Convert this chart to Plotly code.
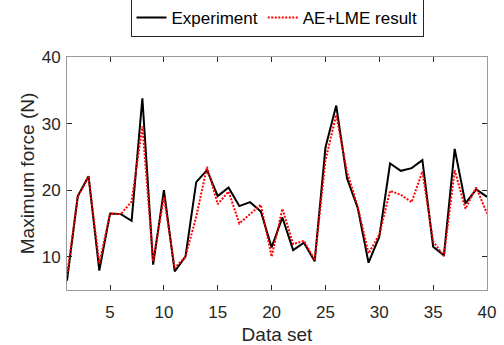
import plotly.graph_objects as go

data_set = list(range(1, 41))
experiment = [6.4, 19.1, 22.1, 7.9, 16.5, 16.4, 15.4, 33.8, 8.8, 20.0,
              7.8, 10.0, 21.2, 23.0, 19.1, 20.4, 17.6, 18.2, 16.8, 11.4,
              15.9, 11.0, 12.1, 9.3, 26.4, 32.7, 21.8, 17.3, 9.1, 13.0,
              24.0, 22.9, 23.3, 24.5, 11.5, 10.2, 26.2, 18.0, 20.1, 19.0]
ae_lme = [7.2, 19.0, 22.0, 9.0, 16.5, 16.4, 18.3, 29.6, 9.3, 19.0,
          8.3, 10.0, 16.0, 23.5, 17.9, 19.8, 15.0, 16.4, 17.8, 10.0,
          17.2, 11.9, 12.4, 9.5, 24.5, 31.3, 22.8, 17.5, 10.5, 13.3,
          19.9, 19.3, 18.2, 22.8, 12.3, 10.1, 23.0, 17.2, 20.4, 16.5]
x_ticks = [5, 10, 15, 20, 25, 30, 35, 40]
y_ticks = [10, 20, 30, 40]

FONT = "Liberation Sans, Arial, sans-serif"

fig = go.Figure()
fig.add_trace(go.Scatter(x=data_set, y=experiment, mode="lines", name="Experiment",
                         line=dict(color="black", width=2)))
fig.add_trace(go.Scatter(x=data_set, y=ae_lme, mode="lines", name="AE+LME result",
                         line=dict(color="#ff0000", width=2, dash="2px,1.5px")))

axis_common = dict(
    showline=True, linecolor="#9a9a9a", linewidth=1, mirror="ticks",
    ticks="inside", ticklen=5, tickcolor="#262626", tickwidth=1,
    showgrid=False, zeroline=False,
    tickfont=dict(family=FONT, size=17, color="#262626"),
)

fig.update_layout(
    width=504, height=345,
    margin=dict(l=67, r=17, t=57, b=55, autoexpand=False),
    paper_bgcolor="white", plot_bgcolor="white",
    font=dict(family=FONT, color="#262626"),
    showlegend=True,
    legend=dict(orientation="h", x=0.5, xanchor="center", y=1.086, yanchor="bottom",
                bordercolor="#262626", borderwidth=1, bgcolor="white",
                font=dict(family=FONT, size=17, color="black"),
                itemwidth=30, tracegroupgap=0),
    xaxis=dict(range=[1, 40], tickvals=x_ticks, ticklabelstandoff=7,
               title=dict(text="Data set", font=dict(family=FONT, size=19, color="#262626"), standoff=6),
               **axis_common),
    yaxis=dict(range=[5, 40], tickvals=y_ticks, ticklabelstandoff=2,
               title=dict(text="Maximum force (N)", font=dict(family=FONT, size=19, color="#262626"), standoff=2),
               **axis_common),
)

fig.write_html("out.html")
